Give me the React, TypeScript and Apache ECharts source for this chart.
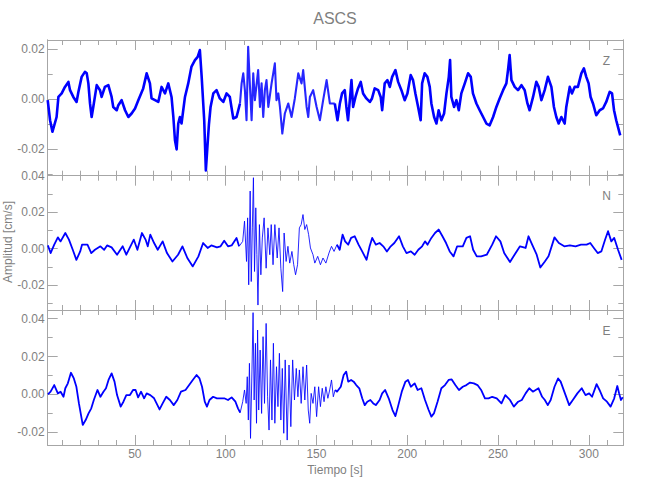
import React, { useEffect, useRef } from "react";
import * as echarts from "echarts";

// Samples: [time (s), amplitude (1e-3 cm/s)]
const zSamples: number[][] = [
  [2.0,-0.4],[3.3,-8.4],[4.6,-13.0],[6.9,-7.1],[7.9,0.9],[9.7,2.3],[11.5,4.9],[13.4,6.9],[14.3,3.6],[16.1,0.9],
  [17.9,-1.1],[18.9,2.9],[20.7,8.9],[22.5,10.9],[23.5,10.3],[24.4,6.3],[25.3,-1.7],[26.2,-7.1],[27.1,-3.1],[29.0,5.6],
  [30.8,3.6],[31.7,0.9],[33.5,4.9],[35.4,5.6],[37.2,0.9],[38.1,-3.1],[40.0,-4.4],[40.9,-2.4],[42.7,-0.4],[44.6,-4.4],
  [46.4,-7.1],[48.2,-5.7],[50.1,-3.7],[51.9,-0.4],[54.6,4.3],[56.5,10.3],[58.3,6.3],[59.2,0.3],[61.1,-0.4],[62.9,-1.1],
  [64.7,4.9],[66.6,2.3],[68.4,6.3],[70.2,0.9],[71.2,-7.1],[72.1,-16.4],[73.0,-20.0],[73.9,-9.7],[74.8,-7.1],[75.7,-9.7],
  [77.6,0.9],[79.4,6.3],[81.2,13.0],[83.1,15.6],[84.6,16.9],[85.8,19.6],[86.8,8.9],[88.2,-8.4],[89.1,-28.4],[89.9,-19.6],
  [90.8,-10.0],[91.7,-3.1],[93.2,2.3],[95.0,3.6],[96.8,0.3],[98.7,-1.1],[100.5,2.3],[102.3,0.9],[104.2,-7.7],[106.0,-7.1],
  [107.9,-1.7],[108.8,6.3],[109.7,10.3],[110.6,3.6],[111.5,-8.4],[112.4,20.9],[113.4,4.9],[114.3,-8.4],[115.2,10.3],[116.1,-0.4],
  [117.9,11.6],[118.9,-3.1],[119.8,6.3],[120.7,-7.1],[121.6,3.6],[122.5,7.6],[123.5,-3.1],[125.3,6.3],[127.1,14.3],[128.0,-0.4],
  [129.0,2.3],[129.9,-3.1],[131.2,-13.7],[132.6,-5.7],[134.5,-1.7],[136.3,-7.1],[138.1,0.3],[140.0,10.3],[141.8,6.3],[142.7,11.6],
  [144.6,-3.1],[145.5,-7.1],[146.4,0.9],[148.2,3.6],[150.1,-3.1],[151.9,-8.4],[153.7,-0.4],[155.6,7.6],[157.4,-1.7],[159.2,-1.7],
  [160.1,-1.7],[161.6,-8.4],[162.9,-1.7],[164.1,2.3],[165.6,3.6],[166.5,-3.1],[167.4,-8.4],[168.4,-0.4],[169.3,7.6],[170.2,-3.1],
  [171.5,0.9],[172.9,4.3],[174.4,6.9],[175.7,2.3],[177.5,0.3],[179.4,-1.1],[180.6,0.3],[182.1,4.3],[184.0,3.6],[185.4,0.9],
  [186.2,-4.4],[187.6,6.3],[189.1,7.6],[190.4,4.9],[191.7,8.9],[193.5,11.6],[195.0,6.9],[196.8,3.6],[198.6,-0.4],[200.1,2.3],
  [201.9,9.6],[203.2,7.6],[204.5,2.3],[206.0,-3.1],[207.4,-8.4],[208.2,6.3],[209.6,10.3],[211.1,8.9],[212.4,4.9],[213.3,-1.7],
  [214.8,-7.1],[216.1,-9.7],[217.3,-4.4],[218.8,-8.4],[220.3,-5.7],[221.6,2.3],[222.9,8.9],[223.6,15.6],[224.3,0.9],[225.8,-3.1],
  [227.1,-0.4],[228.4,-4.4],[229.8,2.3],[231.7,6.3],[233.5,10.3],[235.0,8.9],[236.2,2.3],[238.1,-1.7],[239.9,-4.4],[241.8,-7.1],
  [243.6,-9.7],[245.4,-10.4],[247.3,-7.1],[249.1,-3.1],[250.9,0.3],[252.8,3.6],[254.6,6.3],[255.5,11.6],[256.4,17.6],[257.4,7.6],
  [259.2,4.9],[261.0,3.6],[262.9,5.6],[264.7,3.6],[266.2,-1.7],[267.4,-4.4],[269.3,0.9],[271.1,6.9],[272.4,4.9],[273.9,-0.4],
  [275.7,3.6],[277.5,8.9],[279.4,4.9],[280.8,-3.1],[282.1,-7.1],[283.4,-9.7],[284.9,-7.1],[286.7,-9.7],[287.6,-3.1],[289.5,4.9],
  [290.7,2.3],[292.2,4.9],[294.0,4.9],[295.9,10.3],[297.3,12.3],[298.6,8.9],[299.9,6.3],[301.0,0.9],[302.3,-1.7],[304.1,-6.4],
  [306.0,-4.4],[307.8,-3.7],[309.6,-1.1],[311.5,2.9],[312.8,2.3],[313.9,-4.4],[315.1,-8.4],[316.1,-11.1],[317.3,-14.4],
];

const nSamples: number[][] = [
  [2.1,1.8],[3.6,-2.4],[5.6,2.2],[7.6,6.2],[9.1,4.0],[11.7,8.6],[13.7,5.0],[15.8,-0.6],[17.8,-6.1],[19.9,-1.5],
  [20.9,2.2],[23.9,2.2],[26.0,-2.4],[28.0,-0.6],[31.05,1.3],[33.1,-0.6],[34.7,1.8],[37.2,0.7],[40.2,-3.3],[43.3,1.3],
  [45.3,-3.3],[49.4,5.0],[51.4,-0.6],[53.9,8.6],[55.9,5.0],[57.1,1.3],[58.5,7.7],[60.6,3.1],[62.6,-0.6],[65.3,4.0],
  [67.7,-2.4],[70.7,-7.0],[73.8,-3.3],[76.2,1.3],[78.9,-5.1],[81.9,-9.7],[85.0,-4.2],[87.6,3.1],[90.1,0.4],[92.1,1.8],
  [95.2,0.7],[97.2,1.3],[99.2,4.4],[101.3,1.3],[103.3,1.8],[106.0,5.9],[107.4,1.3],[109.4,4.0],[110.4,15.1],[111.5,-7.0],
  [112.1,16.9],[112.7,-19.8],[113.5,31.6],[114.1,-18.0],[114.7,11.4],[115.3,38.9],[115.9,-12.5],[116.6,22.4],[117.2,-3.3],[117.8,-30.9],
  [118.6,13.2],[119.4,-14.3],[120.2,5.9],[121.2,16.9],[122.3,-10.7],[123.3,11.4],[124.3,-3.3],[125.1,13.2],[126.1,-8.8],[127.1,13.2],
  [128.4,-5.1],[129.4,11.4],[130.4,-10.7],[131.4,-23.5],[132.2,8.6],[133.3,-7.0],[134.3,1.3],[135.3,-7.9],[136.5,-1.5],[137.5,-8.8],
  [138.5,-14.3],[139.6,-8.8],[140.6,11.4],[141.6,13.2],[142.6,18.7],[143.6,10.5],[144.6,13.2],[145.7,7.7],[146.7,0.4],[148.1,-3.3],
  [149.1,-7.9],[150.7,-4.2],[152.2,-8.8],[153.6,-5.1],[155.2,-7.9],[156.9,-2.4],[158.3,1.3],[159.7,-1.5],[161.3,2.2],[162.8,-0.6],
  [164.4,7.7],[165.8,4.0],[167.5,2.2],[169.1,5.9],[171.1,6.8],[173.2,2.2],[175.2,-1.5],[177.6,-6.1],[179.3,1.3],[180.7,5.9],
  [182.7,2.2],[184.8,3.1],[186.8,1.3],[188.8,-1.5],[190.9,1.3],[192.9,3.1],[195.5,6.8],[197.6,1.3],[199.6,-2.4],[202.0,-1.5],
  [204.1,-3.3],[206.1,-0.6],[208.2,1.3],[209.8,4.0],[211.2,2.2],[213.3,5.9],[215.3,8.6],[217.3,10.5],[219.4,6.8],[221.4,3.1],
  [223.4,-1.5],[225.5,-4.2],[227.5,1.3],[230.6,1.3],[232.6,5.9],[234.6,6.8],[236.3,-0.6],[238.3,-4.2],[240.7,-4.2],[243.8,-3.3],
  [246.8,2.2],[248.9,6.8],[251.3,4.0],[253.4,-2.4],[256.6,-7.3],[259.1,-3.3],[262.1,1.3],[265.2,0.4],[266.8,6.8],[268.8,2.2],
  [271.3,-3.3],[273.3,-10.3],[275.8,-7.0],[277.8,-4.2],[281.1,6.2],[283.5,3.1],[286.5,1.3],[289.6,1.8],[292.7,1.3],[295.7,2.2],
  [298.8,2.2],[300.8,3.1],[302.8,0.4],[304.9,-2.4],[306.9,-1.5],[309.0,5.0],[310.6,9.6],[312.4,4.0],[314.0,5.9],[316.1,-0.6],
  [318.1,-6.1],
];

const eSamples: number[][] = [
  [2.1,0],[3.6,1.4],[5.6,4.9],[7.6,0.5],[9.1,1.4],[10.7,-1.3],[11.7,3.2],[13.1,5.8],[14.8,11.4],[16.4,8.4],
  [17.8,4.0],[19.2,-4.8],[21.3,-16.2],[22.9,-13.6],[24.5,-10.1],[26.0,-7.4],[27.4,-3.0],[29.4,2.3],[31.05,-1.3],[32.7,1.4],
  [34.1,3.2],[35.5,7.6],[37.2,11.1],[38.8,6.7],[40.2,-0.4],[42.2,-6.5],[43.7,-3.9],[45.3,-0.4],[47.3,-0.4],[49.0,2.3],
  [50.4,2.3],[51.8,-1.6],[53.4,1.4],[55.1,-2.1],[56.5,0.5],[58.5,-0.4],[60.6,-2.1],[63.6,-8.0],[65.3,-4.8],[67.3,-1.3],
  [69.3,-3.0],[71.4,-5.7],[73.4,-3.0],[75.4,1.4],[77.9,2.3],[79.9,4.9],[81.9,7.6],[84.0,10.2],[85.6,8.4],[87.0,4.0],
  [88.5,-3.9],[89.7,-6.5],[91.1,-3.0],[93.1,-1.3],[95.2,-2.1],[97.2,-2.1],[99.2,-2.1],[101.3,-3.0],[103.3,-1.6],[105.4,-3.9],
  [106.8,-7.4],[108.0,-9.7],[109.4,-3.9],[110.4,2.3],[111.3,-4.8],[111.9,9.3],[112.5,-13.6],[113.1,16.4],[113.7,-23.3],[114.5,12.9],
  [115.1,43.2],[115.7,-3.0],[116.4,27.0],[117.0,-15.3],[117.6,34.0],[118.2,-8.3],[119.0,23.4],[119.8,-10.1],[120.6,30.5],[121.4,-4.8],
  [122.3,37.5],[123.1,-1.3],[123.9,-18.9],[124.7,18.2],[125.5,-13.6],[126.3,27.0],[127.1,-15.3],[128.0,14.6],[128.8,-6.5],[129.6,21.7],
  [130.4,-13.6],[131.2,13.7],[132.0,-20.6],[132.8,18.2],[133.9,-24.2],[134.9,15.5],[135.9,-17.1],[136.9,18.2],[137.9,-3.0],[138.9,13.7],
  [139.8,-1.3],[140.6,12.9],[141.6,-4.8],[142.6,14.6],[143.6,-3.0],[144.6,15.5],[145.5,-8.3],[146.3,-15.3],[147.1,0.5],[148.1,-4.8],
  [149.1,4.0],[150.1,-11.8],[151.2,4.0],[152.2,-6.5],[153.2,3.2],[154.2,-3.9],[155.2,4.0],[156.3,-2.1],[157.3,2.3],[158.3,7.6],
  [159.3,-1.3],[160.3,2.3],[161.3,1.4],[163.4,4.0],[165.0,10.2],[166.4,12.0],[167.5,6.7],[169.1,7.6],[170.5,6.7],[171.9,4.9],
  [173.6,3.2],[175.2,-2.1],[176.6,-5.7],[178.0,-3.9],[179.7,-3.0],[181.3,-4.8],[182.7,-5.7],[184.8,-3.0],[186.2,0.5],[187.8,2.3],
  [189.8,-2.1],[191.9,-8.3],[193.5,-11.5],[194.9,-6.5],[197.0,1.4],[199.0,6.7],[200.4,7.6],[202.0,4.0],[204.1,5.8],[205.7,2.3],
  [207.8,3.2],[209.8,-3.0],[211.8,-8.3],[213.3,-11.8],[214.7,-10.1],[216.7,-3.9],[218.8,3.2],[220.8,4.9],[222.8,7.6],[224.5,7.9],
  [226.5,4.9],[228.5,2.3],[230.6,4.0],[232.6,4.9],[234.6,6.2],[236.7,5.8],[238.7,4.9],[240.7,2.3],[242.8,-2.1],[244.8,-2.1],
  [246.8,-1.3],[249.3,-2.1],[251.9,-4.8],[254.0,-0.4],[256.6,-3.0],[258.7,-6.5],[261.1,-3.9],[263.1,-3.0],[265.2,0.5],[267.2,3.2],
  [269.2,1.4],[272.3,3.2],[274.3,-1.3],[275.8,-3.0],[277.4,-5.7],[279.0,-3.0],[281.1,4.0],[283.1,8.4],[284.5,6.7],[286.5,1.4],
  [289.2,-5.7],[291.2,-3.0],[293.7,0.5],[296.1,3.2],[298.2,-0.4],[300.2,0.5],[301.8,-1.3],[304.3,5.4],[305.9,2.3],[307.9,-2.1],
  [310.0,-3.9],[312.0,-6.5],[314.0,-2.1],[315.7,4.4],[316.7,0.5],[317.7,-3.0],[318.7,-1.6],
];

const channels = ["Z", "N", "E"];
const AMP_UNIT = 0.001; // samples are stored in 1e-3 cm/s
// time window of the strong shaking (drawn with a finer line)
const strongWindow = [108, 160];

const X_MIN = 2;
const X_MAX = 319;
const xMajorTicks = [50, 100, 150, 200, 250, 300];
const xMinorTicks = [10, 20, 30, 40, 60, 70, 80, 90, 110, 120, 130, 140, 160, 170, 180, 190, 210, 220, 230, 240, 260, 270, 280, 290, 310];

const yRanges = [[-0.0305, 0.0236], [-0.0336, 0.04], [-0.0268, 0.0446]];
const yMajorTicks = [[-0.02, 0, 0.02], [-0.02, 0, 0.02, 0.04], [-0.02, 0, 0.02, 0.04]];
const yMinorTicks = [[-0.03, -0.01, 0.01], [-0.03, -0.01, 0.01, 0.03], [-0.01, 0.01, 0.03]];

const TITLE = "ASCS";
const Y_NAME = "Amplitud [cm/s]";
const X_NAME = "Tiempo [s]";

const AXIS_COLOR = "#a6a6a6";
const TEXT_COLOR = "#7f7f7f";
const TRACE_COLOR = "#0000ff";
const NUM_FONT = "'Liberation Sans Narrow', 'Liberation Sans', sans-serif";
const TXT_FONT = "'Liberation Sans', sans-serif";

const grids = [
  { left: 47.7, right: 26.7, top: 40, height: 135.7 },
  { left: 47.7, right: 26.7, top: 175.7, height: 134.3 },
  { left: 47.7, right: 26.7, top: 310, height: 135 },
];

function splitTrace(samples: number[][]) {
  let i0 = 0;
  while (i0 + 1 < samples.length && samples[i0 + 1][0] <= strongWindow[0]) i0++;
  let i1 = i0;
  while (i1 < samples.length - 1 && samples[i1][0] < strongWindow[1]) i1++;
  return {
    calm: [samples.slice(0, i0 + 1), samples.slice(i1)],
    strong: samples.slice(i0, i1 + 1),
  };
}

function buildOption() {
  const xAxis: any[] = [];
  const yAxis: any[] = [];
  const series: any[] = [];
  const traces = [zSamples, nSamples, eSamples];

  grids.forEach((_, g) => {
    const xBase = {
      gridIndex: g,
      type: "value",
      min: X_MIN,
      max: X_MAX,
      splitLine: { show: false },
      axisLine: { show: true, onZero: false, lineStyle: { color: AXIS_COLOR, width: 1 } },
    };
    const mkX = (position: string, ticks: number[], len: number, labels: boolean) => ({
      ...xBase,
      position,
      axisTick: { show: true, inside: true, length: len, customValues: ticks, lineStyle: { color: AXIS_COLOR } },
      axisLabel: labels
        ? { show: true, customValues: ticks, margin: 3, color: TEXT_COLOR, fontSize: 12, lineHeight: 12, fontFamily: NUM_FONT }
        : { show: false },
    });
    xAxis.push(mkX("bottom", xMajorTicks, 10, g === 2));
    xAxis.push(mkX("bottom", xMinorTicks, 5, false));
    xAxis.push(mkX("top", xMajorTicks, 10, false));
    xAxis.push(mkX("top", xMinorTicks, 5, false));

    const yBase = {
      gridIndex: g,
      type: "value",
      min: yRanges[g][0],
      max: yRanges[g][1],
      splitLine: { show: false },
      axisLine: { show: true, onZero: false, lineStyle: { color: AXIS_COLOR, width: 1 } },
    };
    const mkY = (position: string, ticks: number[], len: number, labels: boolean) => ({
      ...yBase,
      position,
      axisTick: { show: true, inside: true, length: len, customValues: ticks, lineStyle: { color: AXIS_COLOR } },
      axisLabel: labels
        ? {
            show: true,
            customValues: ticks,
            margin: 3,
            color: TEXT_COLOR,
            fontSize: 12,
            fontFamily: NUM_FONT,
            formatter: (v: number) => v.toFixed(2),
          }
        : { show: false },
    });
    yAxis.push(mkY("left", yMajorTicks[g], 10, true));
    yAxis.push(mkY("left", yMinorTicks[g], 5, false));
    yAxis.push(mkY("right", yMajorTicks[g], 10, false));
    yAxis.push(mkY("right", yMinorTicks[g], 5, false));

    const parts = splitTrace(traces[g]);
    const calmWidth = g === 0 ? 2.6 : 1.8;
    const toData = (arr: number[][]) => arr.map(([t, v]) => [t, v * AMP_UNIT]);
    parts.calm.forEach((seg, k) => {
      series.push({
        type: "line",
        name: `${channels[g]}-${k}`,
        xAxisIndex: g * 4,
        yAxisIndex: g * 4,
        data: toData(seg),
        symbol: "none",
        showSymbol: false,
        silent: true,
        lineStyle: { color: TRACE_COLOR, width: calmWidth, join: "round" },
      });
    });
    series.push({
      type: "line",
      name: `${channels[g]}-strong`,
      xAxisIndex: g * 4,
      yAxisIndex: g * 4,
      data: toData(parts.strong),
      symbol: "none",
      showSymbol: false,
      silent: true,
      lineStyle: { color: TRACE_COLOR, width: g === 0 ? 2.1 : 1, opacity: 0.85, join: "round" },
    });
  });

  const graphic: any[] = [
    {
      type: "text",
      x: 335,
      y: 18,
      style: { text: TITLE, fill: TEXT_COLOR, font: `16px ${TXT_FONT}`, textAlign: "center", textVerticalAlign: "middle" },
    },
    {
      type: "text",
      x: 335,
      y: 470,
      style: { text: X_NAME, fill: TEXT_COLOR, font: `12px ${TXT_FONT}`, textAlign: "center", textVerticalAlign: "middle" },
    },
    {
      type: "text",
      x: 8,
      y: 242,
      rotation: Math.PI / 2,
      style: { text: Y_NAME, fill: TEXT_COLOR, font: `12px ${TXT_FONT}`, textAlign: "center", textVerticalAlign: "middle" },
    },
  ];
  const labelY = [61, 196, 331];
  channels.forEach((c, i) => {
    graphic.push({
      type: "text",
      x: 606.5,
      y: labelY[i],
      style: { text: c, fill: TEXT_COLOR, font: `12px ${NUM_FONT}`, textAlign: "center", textVerticalAlign: "middle" },
    });
  });

  return {
    animation: false,
    backgroundColor: "#ffffff",
    grid: grids.map((g) => ({ ...g, containLabel: false })),
    xAxis,
    yAxis,
    series,
    graphic,
  };
}

export default function App() {
  const ref = useRef<HTMLDivElement>(null);
  useEffect(() => {
    if (!ref.current) return;
    const chart = echarts.init(ref.current, undefined, { renderer: "svg" });
    chart.setOption(buildOption() as any);
    return () => chart.dispose();
  }, []);
  return (
    <div
      ref={ref}
      style={{ position: "absolute", left: 0, top: 0, width: 650, height: 500 }}
    />
  );
}
